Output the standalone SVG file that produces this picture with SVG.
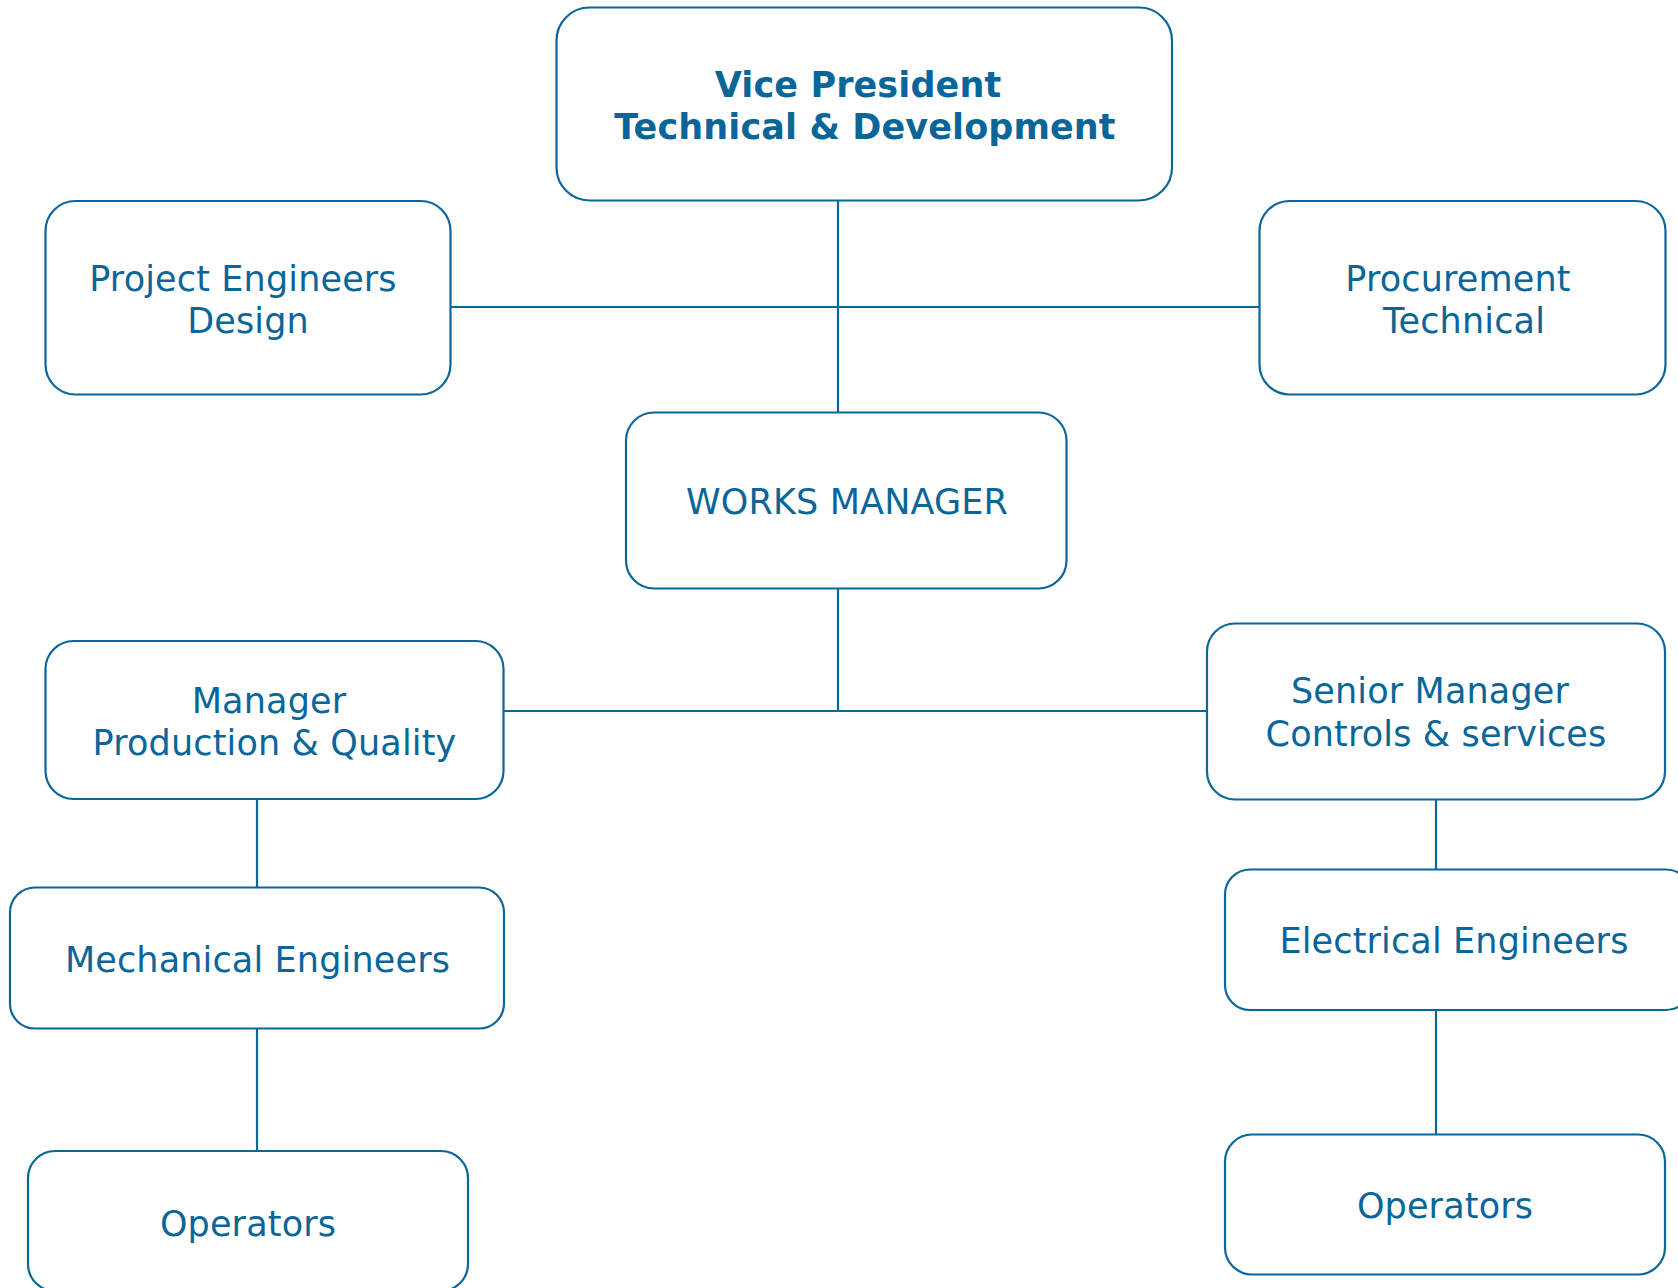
<svg xmlns="http://www.w3.org/2000/svg" width="1678" height="1288" viewBox="0 0 1678 1288">
<style>
.box{fill:#ffffff;stroke:#0b6699;stroke-width:2.2}
.conn line{stroke:#0b6699;stroke-width:2.2}
text{font-family:"DejaVu Sans",Verdana,sans-serif;font-size:35px;fill:#0a6699;text-anchor:middle;letter-spacing:0.15px}
.b{font-weight:bold;letter-spacing:0.1px}
</style>
<rect width="1678" height="1288" fill="#ffffff"/>
<g id="connectors" class="conn">
<line x1="838" y1="200" x2="838" y2="412.5"/>
<line x1="450.5" y1="307" x2="1259.5" y2="307"/>
<line x1="838" y1="588.5" x2="838" y2="711"/>
<line x1="503.5" y1="711" x2="1207" y2="711"/>
<line x1="257" y1="799" x2="257" y2="887.5"/>
<line x1="257" y1="1028.5" x2="257" y2="1151"/>
<line x1="1436" y1="799.5" x2="1436" y2="869.5"/>
<line x1="1436" y1="1010" x2="1436" y2="1134.5"/>
</g>
<g id="vp">
<rect class="box" x="556.5" y="7.5" width="615.5" height="193" rx="33"/>
<text class="b" x="858" y="97">Vice President</text>
<text class="b" x="865" y="138.5">Technical &amp; Development</text>
</g>
<g id="project-engineers">
<rect class="box" x="45.5" y="201" width="405" height="193.5" rx="30"/>
<text x="243" y="291">Project Engineers</text>
<text x="248" y="333">Design</text>
</g>
<g id="procurement">
<rect class="box" x="1259.5" y="201" width="406" height="193.5" rx="30"/>
<text x="1458" y="291">Procurement</text>
<text x="1464" y="333">Technical</text>
</g>
<g id="works-manager">
<rect class="box" x="626" y="412.5" width="440.5" height="176" rx="28"/>
<text x="847" y="514">WORKS MANAGER</text>
</g>
<g id="manager-pq">
<rect class="box" x="45.5" y="641" width="458" height="158" rx="28"/>
<text x="269" y="713">Manager</text>
<text x="274.5" y="755">Production &amp; Quality</text>
</g>
<g id="senior-manager">
<rect class="box" x="1207" y="623.5" width="458" height="176" rx="28"/>
<text x="1430" y="703">Senior Manager</text>
<text x="1436" y="746">Controls &amp; services</text>
</g>
<g id="mechanical-engineers">
<rect class="box" x="10" y="887.5" width="494" height="141" rx="25"/>
<text x="257.5" y="972">Mechanical Engineers</text>
</g>
<g id="electrical-engineers">
<rect class="box" x="1225" y="869.5" width="466" height="140.5" rx="25"/>
<text x="1454" y="953">Electrical Engineers</text>
</g>
<g id="operators-left">
<rect class="box" x="28" y="1151" width="440" height="140" rx="27"/>
<text x="248" y="1236">Operators</text>
</g>
<g id="operators-right">
<rect class="box" x="1225" y="1134.5" width="440" height="140" rx="27"/>
<text x="1445" y="1218">Operators</text>
</g>
</svg>
